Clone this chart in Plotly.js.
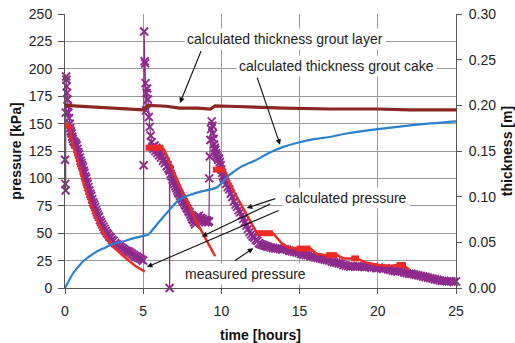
<!DOCTYPE html>
<html>
<head>
<meta charset="utf-8">
<script src="https://cdn.plot.ly/plotly-3.0.1.min.js"></script>
<style>html,body{margin:0;padding:0;background:#fff;}#chart{width:515px;height:343px;}</style>
</head>
<body>
<div id="chart"></div>
<script>
// ---- measured pressure [kPa] vs time [hours] ----
var measuredTimeA = [0.00,0.02,0.04,0.05,0.07,0.09,0.11,0.13,0.16,0.19,0.22,0.26,0.30,0.34,0.38,0.42,0.46,0.50,0.55,0.60,0.65,0.70,0.75,0.80,0.85,0.90,0.95,1.00,1.05,1.10,1.15,1.20,1.25,1.30,1.35,1.40,1.45,1.50,1.56,1.62,1.68,1.74,1.80,1.86,1.92,1.98,2.04,2.10,2.17,2.24,2.31,2.38,2.45,2.52,2.60,2.68,2.76,2.84,2.92,3.00,3.10,3.20,3.30,3.40,3.50,3.60,3.70,3.80,3.90,4.00,4.10,4.20,4.30,4.40,4.50,4.60,4.70,4.80,4.90,5.00];
var measuredPressureA = [117,95,89,160,193,190,184,178,172,166,160,155,150,146,143,141,138,136,134,133,131,132,130,127,124,122,119,116,114,112,110,107,105,102,100,97,95,92,89,86,84,81,78,76,74,71,69,67,65,62,60,58,56,54,52,50,49,47,46,44,43,41,40,39,38,37,36,35,34,33.5,33,32,31,30,29,28.5,27.5,27,26,25];
var measuredTimeB = [5.03,5.06,5.09,5.12,5.15,5.18,5.21,5.25,5.30,5.36,5.42,5.48,5.54,5.60,5.66,5.72,5.78,5.84,5.90,5.96,6.02,6.08,6.14,6.20,6.26,6.32,6.38,6.44,6.50,6.56,6.62,6.68,6.69,6.70,6.76,6.82,6.88,6.94,7.00,7.06,7.12,7.18,7.24,7.30,7.36,7.42,7.48,7.54,7.60,7.66,7.72,7.78,7.84,7.90,7.96,8.02,8.08,8.14,8.20,8.26,8.32,8.38,8.44,8.50,8.56,8.62,8.68,8.74,8.80,8.86,8.92,8.98,9.04,9.10,9.16,9.20];
var measuredPressureB = [112,234,207,205,187,162,178,182,172,156,147,139,133,129,127,130,125,128,123,126,121,124,119,121,116,118,114,115,111,112,109,108,0,107,104,102,99,97,95,93,91,89,87,86,84,82,81,79,78,76,75,73,72,70,69,67,65,63,62,60,58,63,65,64,66,63,64,62,63,61,62,60,62,61,60,61];
var measuredTimeC = [9.22,9.26,9.30,9.34,9.38,9.42,9.46,9.50,9.54,9.58,9.62,9.66,9.70,9.75,9.80,9.85,9.90,9.95,10.00,10.05,10.10,10.15,10.20,10.30,10.40,10.50,10.60,10.70,10.80,10.90,11.00,11.10,11.20,11.30,11.40,11.50,11.60,11.70,11.80,11.90,12.00,12.10,12.20,12.30,12.40,12.50,12.60,12.70,12.80,12.90,13.00,13.15,13.30,13.45,13.60,13.75,13.90,14.05,14.20,14.35,14.50,14.65,14.80,14.95,15.10,15.25,15.40,15.55,15.70,15.85,16.00,16.15,16.30,16.45,16.60,16.75,16.90,17.05,17.20,17.35,17.50,17.65,17.80,17.95,18.10,18.25,18.40,18.55,18.70,18.85,19.00,19.15,19.30,19.45,19.60,19.75,19.90,20.05,20.20,20.35,20.50,20.65,20.80,20.95,21.10,21.25,21.40,21.55,21.70,21.85,22.00,22.15,22.30,22.45,22.60,22.75,22.90,23.05,23.20,23.35,23.50,23.65,23.80,23.95,24.10,24.25,24.40,24.55,24.70,24.85,25.00];
var measuredPressureC = [100,120,135,145,152,148,141,136,131,128,126,123,121,119,117,118,115,112,108,105,102,100,98,95,92,90,86,83,79,76,74,71,69,66,63,60,57,54,51,49,47,46,44,43,41,40,39.5,39,38.5,38,37.5,37,36.5,36,36,35.5,35,35.5,35,34,33.5,33,32.5,32,31,30.5,30,30,29,28.5,28,27.5,27,26.5,26,25.5,25,24,23.5,23,22.5,22,21,20.5,20,19.5,20,19.5,20,19.5,19.5,19,19.5,19,18.5,19,18,18.5,18,17.5,18,17,16.5,16,15.5,15,15.5,15,14,13.5,13,13,12.5,12,11.5,11,10.5,10,9.5,9,8.5,8,7.5,7,6.5,6.5,6,6,6,5.5,6];

// ---- calculated pressure [kPa] ----
var calcTime = [0.3,0.4,0.6,0.8,1.0,1.2,1.4,1.8,2.2,2.6,3.0,3.5,4.0,4.5,5.1,null,
                6.3,6.6,7.0,7.5,8.0,8.5,9.0,9.6,null,
                10.2,10.5,10.8,11.2,11.5,12.0,12.3,13.3,13.85,14.3,14.8,15.7,16.1,16.7,17.4,17.8,18.3,18.8,19.3,20.0,20.8,21.2,21.8,22.0];
var calcPressure = [148,138,126,117,106,95,86,70,57,47,39,32,26,20,15,null,
                127,118,104,88,73,58,45,29,null,
                108,97,88,77,70,57,50,50,41,37,36,36,31,30,30,27,27,26,23,21,20,21,19,17];
var stepTime = [0.0,0.3,null,5.15,6.3,null,9.45,10.2,null,12.3,13.3,null,14.8,15.7,null,16.7,17.4,null,18.3,18.8,null,21.2,21.8];
var stepPressure = [148,148,null,128,128,null,108,108,null,50,50,null,36,36,null,30,30,null,27,27,null,21,21];

// ---- calculated thickness [m] ----
var layerTime = [0,1,2.2,3.5,4.2,5.0,5.3,6.5,7.3,8.5,9.3,9.6,10.5,12,14,17,20,22,25];
var layerThickness = [0.200,0.199,0.197,0.196,0.195,0.195,0.200,0.199,0.197,0.197,0.196,0.1995,0.199,0.198,0.197,0.196,0.196,0.195,0.195];
var cakeTime = [0,0.5,1,1.3,2,2.6,3,3.6,4.3,5.0,5.3,6,6.6,7.25,8,8.7,9.7,10.5,11.3,12.25,13,14,15,16,17,18,20,22.5,25];
var cakeThickness = [0,0.0156,0.0264,0.0312,0.0396,0.0444,0.048,0.0504,0.054,0.057,0.0582,0.072,0.084,0.096,0.102,0.1056,0.110,0.1236,0.1332,0.1404,0.1476,0.1548,0.1596,0.1632,0.1656,0.1692,0.174,0.1788,0.1824];

var FONT = 'Liberation Sans, Arial, Helvetica, sans-serif';
var RED = '#ee2a24', PURPLE = '#8e2a8c', BROWN = '#8b2622', BLUE = '#2a80cc';

var traces = [
  {x: measuredTimeA.concat(measuredTimeB, measuredTimeC), y: measuredPressureA.concat(measuredPressureB, measuredPressureC),
   type: 'scatter', mode: 'lines+markers', cliponaxis: false,
   line: {color: PURPLE, width: 1.2},
   marker: {symbol: 'x-thin', size: 8, line: {color: PURPLE, width: 1.9}, color: PURPLE}},
  {x: calcTime, y: calcPressure, type: 'scatter', mode: 'lines', line: {color: RED, width: 2.5}, connectgaps: false, hoverinfo: 'skip'},
  {x: stepTime, y: stepPressure, type: 'scatter', mode: 'lines', line: {color: RED, width: 6}, connectgaps: false, hoverinfo: 'skip'},
  {x: layerTime, y: layerThickness, yaxis: 'y2', type: 'scatter', mode: 'lines', line: {color: BROWN, width: 3.2}},
  {x: cakeTime, y: cakeThickness, yaxis: 'y2', type: 'scatter', mode: 'lines', line: {color: BLUE, width: 2.2, shape: 'spline', smoothing: 0.6}}
];

var ann = function (x, y, ax, ay) {
  return {x: x, y: y, ax: ax, ay: ay, xref: 'x', yref: 'y', axref: 'x', ayref: 'y', text: '',
          showarrow: true, arrowhead: 2, arrowsize: 1, arrowwidth: 1.1, arrowcolor: '#111'};
};
var label = function (x, y, t) {
  return {x: x, y: y, xref: 'x', yref: 'y', text: t, showarrow: false, bgcolor: '#ffffff',
          borderpad: 2, font: {family: FONT, size: 14, color: '#222'}};
};

var layout = {
  width: 515, height: 343,
  margin: {l: 65, r: 59, t: 14, b: 55},
  paper_bgcolor: '#fff', plot_bgcolor: '#fff',
  showlegend: false,
  font: {family: FONT, size: 14, color: '#222'},
  xaxis: {range: [0, 25], dtick: 5, tick0: 0, showgrid: true, gridcolor: '#9a9a9a', gridwidth: 1,
          showline: true, linecolor: '#555', linewidth: 1, ticks: 'outside', ticklen: 5, tickcolor: '#555',
          ticklabelstandoff: 5,
          zeroline: false, tickfont: {family: FONT, size: 14, color: '#222'},
          title: {text: '<b>time [hours]</b>', font: {family: FONT, size: 14, color: '#111'}, standoff: 12}},
  yaxis: {range: [0, 250], dtick: 25, tick0: 0, showgrid: true, gridcolor: '#9a9a9a', gridwidth: 1,
          showline: true, linecolor: '#555', linewidth: 1, ticks: 'outside', ticklen: 6, tickcolor: '#555',
          ticklabelstandoff: 3,
          zeroline: false, tickfont: {family: FONT, size: 14, color: '#222'},
          title: {text: '<b>pressure [kPa]</b>', font: {family: FONT, size: 14, color: '#111'}, standoff: 3}},
  yaxis2: {overlaying: 'y', side: 'right', range: [0, 0.3], dtick: 0.05, tick0: 0, tickformat: '.2f',
           showgrid: false, showline: true, linecolor: '#555', linewidth: 1, ticks: 'outside', ticklen: 5, tickcolor: '#555',
           ticklabelstandoff: 4,
           zeroline: false, tickfont: {family: FONT, size: 14, color: '#222'},
           title: {text: '<b>thickness [m]</b>', font: {family: FONT, size: 14, color: '#111'}, standoff: 7}},
  annotations: [
    ann(7.35, 168.8, 8.74, 217.6),
    ann(13.75, 130.7, 12.26, 193.2),
    ann(11.62, 72.9, 13.54, 82),
    ann(8.74, 46.9, 13.22, 77.4),
    ann(5.24, 19.2, 13.75, 71.3),
    ann(12.04, 36.3, 10.76, 24),
    label(14.06, 227.3, 'calculated thickness grout layer'),
    label(17.35, 202.3, 'calculated thickness grout cake'),
    label(17.97, 82.3, 'calculated pressure'),
    label(11.57, 12.8, 'measured pressure')
  ]
};

Plotly.newPlot('chart', traces, layout, {displayModeBar: false, staticPlot: true});
</script>
</body>
</html>
